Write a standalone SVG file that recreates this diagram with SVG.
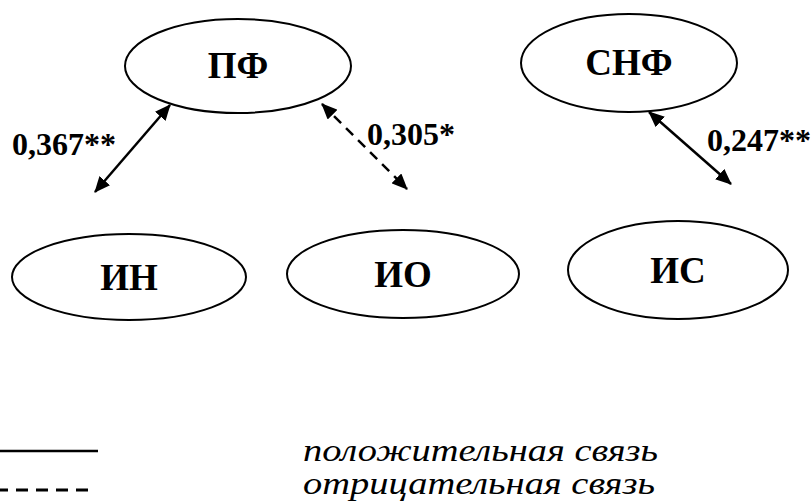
<svg xmlns="http://www.w3.org/2000/svg" width="811" height="501" viewBox="0 0 811 501">
<style>
.node ellipse{fill:#fff;stroke:#000;stroke-width:2}
.node text{font-family:"Liberation Serif",serif;font-weight:bold;font-size:37px;text-anchor:middle}
.lbl{font-family:"Liberation Serif",serif;font-weight:bold;font-size:32px}
.leg{font-family:"Liberation Serif",serif;font-style:italic;font-size:32px}
.c{stroke:#000;stroke-width:2.5;fill:none}
.d{stroke-dasharray:10 7}
</style>
<defs>
<marker id="ah" viewBox="0 0 16 14" refX="15" refY="7" markerWidth="16" markerHeight="14" markerUnits="userSpaceOnUse" orient="auto-start-reverse">
<path d="M0,0 L16,7 L0,14 z" fill="#000"/>
</marker>
</defs>
<g id="n-pf" class="node"><ellipse cx="238" cy="66" rx="113" ry="47"/><text x="238" y="78">ПФ</text></g>
<g id="n-snf" class="node"><ellipse cx="629" cy="63" rx="108" ry="49"/><text x="629" y="75">СНФ</text></g>
<g id="n-in" class="node"><ellipse cx="129" cy="277" rx="117" ry="43"/><text x="129" y="290">ИН</text></g>
<g id="n-io" class="node"><ellipse cx="403" cy="274" rx="116" ry="44"/><text x="403" y="287">ИО</text></g>
<g id="n-is" class="node"><ellipse cx="678" cy="270" rx="110" ry="49"/><text x="678" y="283">ИС</text></g>
<g id="connectors">
<line class="c" x1="170" y1="105" x2="95" y2="192" marker-start="url(#ah)" marker-end="url(#ah)"/>
<line class="c d" x1="322" y1="104" x2="407" y2="189" marker-start="url(#ah)" marker-end="url(#ah)"/>
<line class="c" x1="649" y1="112" x2="731" y2="184" marker-start="url(#ah)" marker-end="url(#ah)"/>
</g>
<text class="lbl" x="12" y="155">0,367**</text>
<text class="lbl" x="367" y="145">0,305*</text>
<text class="lbl" x="707" y="151">0,247**</text>
<g id="legend">
<line x1="0" y1="451" x2="98" y2="451" stroke="#000" stroke-width="2.5"/>
<line x1="0" y1="490" x2="88" y2="490" stroke="#000" stroke-width="3" stroke-dasharray="12 8" stroke-dashoffset="4"/>
<text class="leg" x="303" y="461" textLength="355" lengthAdjust="spacingAndGlyphs">положительная связь</text>
<text class="leg" x="303" y="494" textLength="352" lengthAdjust="spacingAndGlyphs">отрицательная связь</text>
</g>
</svg>
